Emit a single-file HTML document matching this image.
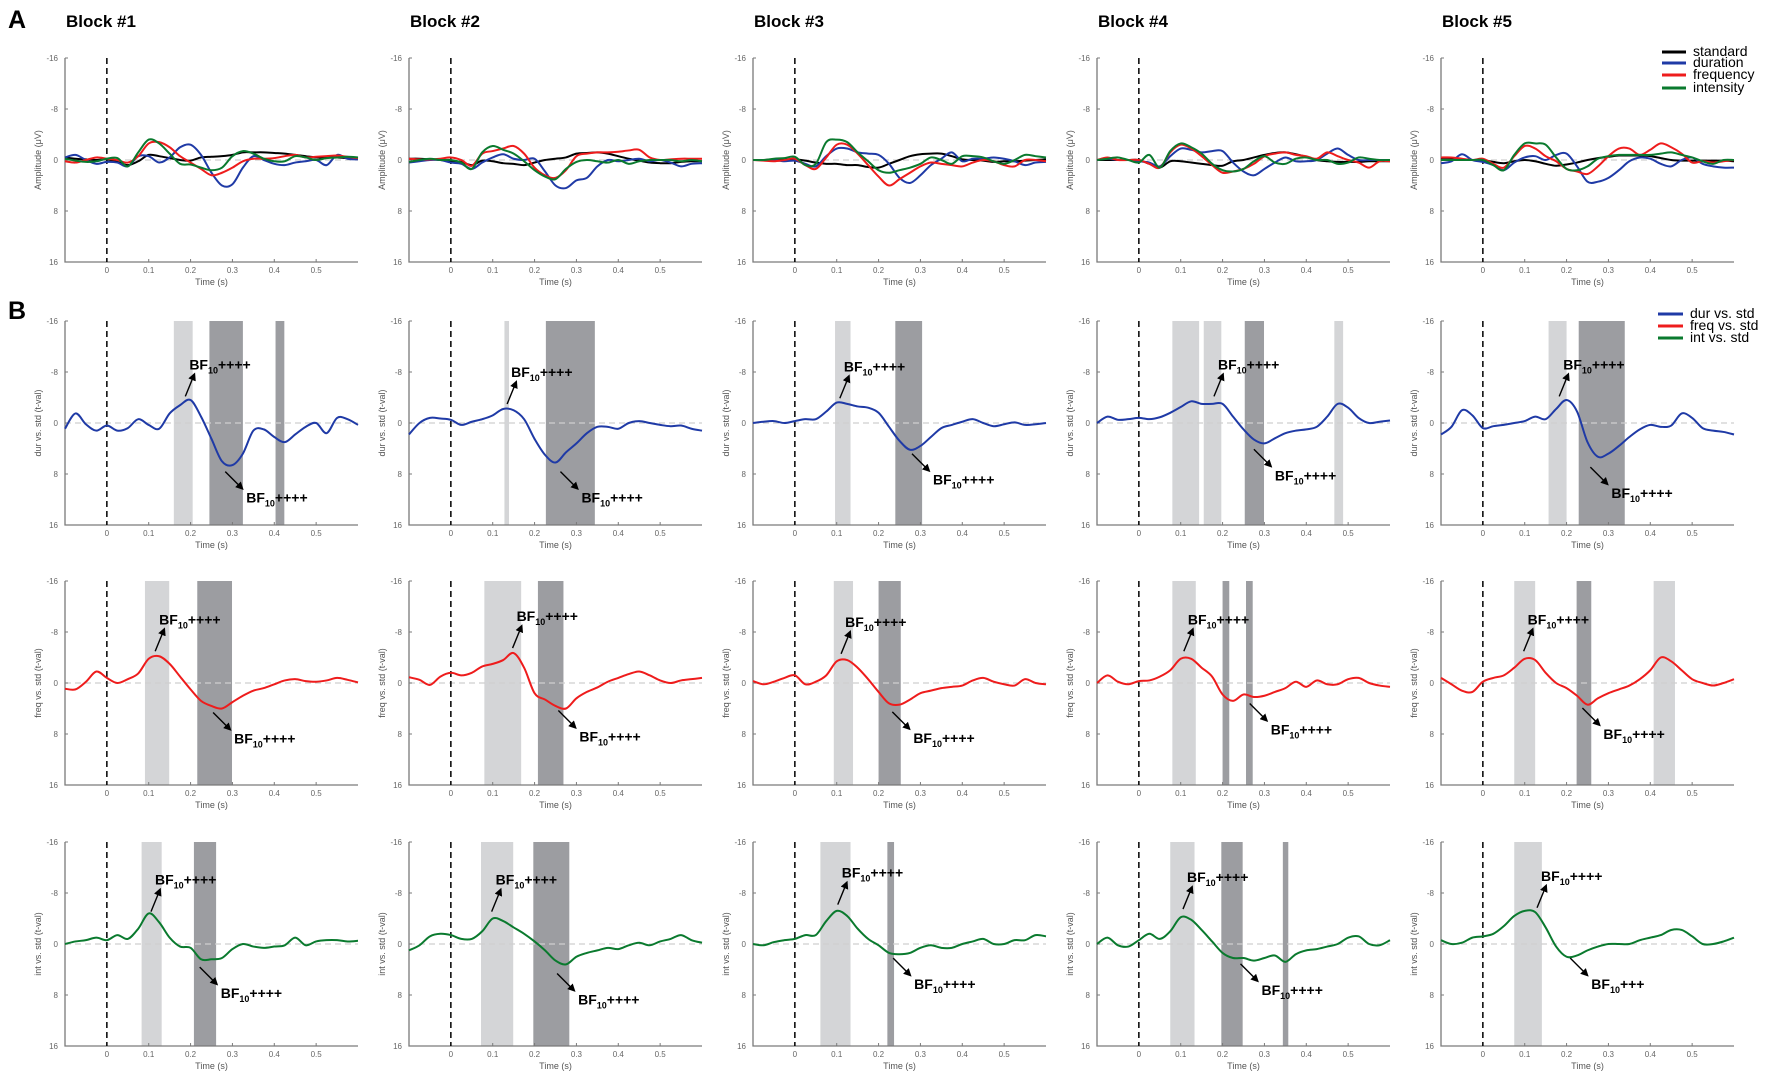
<!DOCTYPE html>
<html><head><meta charset="utf-8">
<style>
html,body{margin:0;padding:0;background:#fff;}
svg{display:block;font-family:"Liberation Sans",sans-serif;}
</style></head>
<body>
<svg id="fig" width="1772" height="1076" viewBox="0 0 1772 1076" xmlns="http://www.w3.org/2000/svg">
<defs>
<marker id="ah" markerWidth="8" markerHeight="8" refX="6" refY="4" orient="auto" markerUnits="userSpaceOnUse"><path d="M0,0 L8,4 L0,8 z" fill="#000"/></marker>
</defs>
<text x="8" y="28" font-size="25" font-weight="bold">A</text>
<text x="8" y="319" font-size="25" font-weight="bold">B</text>
<g font-size="14">
<line x1="1662" y1="52" x2="1686" y2="52" stroke="#000" stroke-width="3"/><text x="1693" y="56">standard</text>
<line x1="1662" y1="63" x2="1686" y2="63" stroke="#1f3aa6" stroke-width="3"/><text x="1693" y="67">duration</text>
<line x1="1662" y1="75" x2="1686" y2="75" stroke="#ee1c1c" stroke-width="3"/><text x="1693" y="79">frequency</text>
<line x1="1662" y1="88" x2="1686" y2="88" stroke="#0a7a2e" stroke-width="3"/><text x="1693" y="92">intensity</text>
</g>
<g font-size="14">
<line x1="1658" y1="314" x2="1683" y2="314" stroke="#1f3aa6" stroke-width="3"/><text x="1690" y="318">dur vs. std</text>
<line x1="1658" y1="326" x2="1683" y2="326" stroke="#ee1c1c" stroke-width="3"/><text x="1690" y="330">freq vs. std</text>
<line x1="1658" y1="338" x2="1683" y2="338" stroke="#0a7a2e" stroke-width="3"/><text x="1690" y="342">int vs. std</text>
</g>
</svg>
<script>
// ---- data ----
const times = [-0.1,-0.075,-0.05,-0.025,0,0.025,0.05,0.075,0.1,0.125,0.15,0.175,0.2,0.225,0.25,0.275,0.3,0.325,0.35,0.375,0.4,0.425,0.45,0.475,0.5,0.525,0.55,0.575,0.6];
const xTicks = [0,0.1,0.2,0.3,0.4,0.5];
const xTickLabels = ["0","0.1","0.2","0.3","0.4","0.5"];
const yTicks = [-16,-8,0,8,16];
const yTickLabels = ["-16","-8","0","8","16"];
const blockTitles = ["Block #1","Block #2","Block #3","Block #4","Block #5"];
const rowYLabels = ["Amplitude (\u03bcV)","dur vs. std (t-val)","freq vs. std (t-val)","int vs. std (t-val)"];

// Row A ERPs per block
const erpStandard = [
[-0.4,-0.2,-0.1,0,-0.1,0.3,0.8,0.2,-0.8,-0.6,-0.3,0,0.1,-0.4,-0.5,-0.6,-0.8,-1.2,-1.2,-1.2,-1.1,-1.0,-0.8,-0.6,-0.4,-0.4,-0.4,-0.3,-0.3],
[-0.2,-0.2,-0.1,0,0.2,0.3,0.8,0.1,0.2,0.5,0.6,0.8,0.4,0,-0.2,-0.4,-1.0,-1.1,-1.2,-1.0,-0.6,-0.2,0.1,0.4,0.5,0.5,0.3,0.2,0.2],
[0,0,-0.1,-0.1,-0.1,0.1,0.4,0.6,0.6,0.8,0.8,1.1,1.2,0.6,0,-0.6,-0.9,-1.0,-1.0,-0.6,-0.1,0,0.1,0.3,0.2,0.2,0.1,0,-0.1],
[0,0,0,0,0,0.6,1.2,0.2,0.2,0.4,0.6,0.8,0.9,0.2,0,-0.4,-0.8,-1.1,-1.2,-0.9,-0.5,0,0.2,0.3,0.3,0.3,0.2,0.2,0.2],
[-0.1,-0.1,-0.1,0,0,0.3,0.5,0.2,0,0.2,0.6,0.9,0.7,0.4,0,-0.3,-0.5,-0.7,-0.7,-0.7,-0.6,-0.3,0,0.1,0.1,0.1,0.1,0.1,0.2]];
const erpDuration = [
[-0.4,-0.8,0,0.6,0.3,0.4,1.0,-0.6,-0.6,0.4,-0.4,-2.0,-2.4,-0.8,2.0,4.0,3.8,1.2,-0.6,0,0.6,0.8,0.4,0.2,0,0.8,-0.8,-0.2,-0.1],
[0.4,0.2,0,0,0.4,0.6,1.4,0.4,-0.4,-0.9,-0.2,0,-0.2,1.8,4.0,4.4,3.2,2.8,1.0,0,0.2,0,-0.2,0.2,0,0.4,1.0,0.6,0.5],
[0,0,0,0.2,0.1,0.6,1.0,-0.6,-1.8,-1.8,-1.2,-1.0,-0.8,0.6,2.8,3.6,2.4,0.8,-0.2,-1.2,0.2,-0.2,-0.2,-0.4,-0.2,0.2,0.8,0.4,0.3],
[0,-0.2,0,0,0.2,0.4,1.0,-0.6,-1.8,-1.6,-1.2,-1.4,-1.4,0.4,1.8,2.4,1.4,0.4,-0.4,0.2,0.2,0,-1.0,-1.8,-0.8,0,0,0,0],
[0.5,0.2,-0.9,0,0.3,0.8,1.6,0.4,-0.4,-0.6,0,-0.8,-1.0,1.0,3.4,3.4,2.8,1.6,0.2,-0.4,-0.2,0.6,1.0,0,-0.4,0.6,1.0,1.2,1.2]];
const erpFrequency = [
[0.2,0.4,0,-0.4,-0.2,0,0.4,-0.6,-2.6,-2.8,-2.0,-0.6,0.4,1.4,2.4,2.0,1.2,0.2,-0.2,-0.2,-0.3,-0.6,-0.8,-0.4,-0.5,-0.6,-0.7,-0.5,-0.3],
[-0.2,-0.1,-0.1,-0.2,-0.4,0,0.9,-1.0,-1.4,-1.8,-2.2,-1.0,1.2,2.4,2.8,1.6,-0.6,-1.0,-1.2,-1.2,-1.3,-1.5,-1.6,-0.4,0,-0.1,-0.2,-0.2,-0.2],
[0,0.1,0.2,0,-0.2,0.8,1.4,-0.4,-2.4,-2.4,-1.0,0.8,2.6,4.0,3.0,2.0,1.0,0.4,0.6,0.8,1.0,0.4,0,0.2,0.8,1.0,0,0,0.2],
[0,-0.4,0,0,0,0.6,1.2,-1.2,-2.4,-1.8,-0.6,0.8,2.0,1.8,1.4,0.6,-0.6,-1.0,-1.2,-0.8,-0.6,-0.2,-1.2,-0.6,0,0.4,1.2,0.2,0.2],
[-0.4,-0.4,-0.2,0,-0.2,0.6,1.2,-0.6,-2.2,-1.8,-0.6,0.2,1.4,1.8,2.2,1.0,-0.6,-1.8,-1.8,-0.8,-1.6,-2.6,-2.0,-1.0,0.4,0.2,0.4,0.2,0]];
const erpIntensity = [
[-0.2,0.1,0.3,0.2,-0.2,-0.3,1.0,-1.2,-3.2,-2.6,-1.0,0.6,0.7,1.2,1.6,1.2,-0.6,-1.4,-1.0,-0.2,0.2,0.2,-0.6,-0.4,0,-0.3,-0.4,-0.5,-0.4],
[0.3,0,-0.2,0,0,0.4,1.4,-1.2,-2.2,-1.6,-1.0,0.2,1.6,2.6,3.0,1.4,0.3,0,0.2,0.4,0,0.6,0.2,0,0,0,0.2,0,0.2],
[0,0,-0.2,-0.3,-0.5,0.8,0.6,-2.8,-3.2,-2.8,-1.2,0.2,1.6,2.0,1.6,1.2,0.6,-0.4,0,0.6,-0.6,-0.6,-0.4,0.2,0.6,0,-0.8,-0.6,-0.4],
[0,-0.2,-0.4,0,0.4,-0.8,1.2,-1.4,-2.6,-2.0,-1.0,0.6,1.6,1.8,1.4,0.2,-0.6,0.4,0.6,-0.2,-0.4,0,0,0.6,0.4,-0.4,-0.2,0,0],
[0,0,0,0,0,0.8,1.6,-0.8,-2.6,-2.6,-2.4,-0.4,1.4,1.6,1.0,-0.2,-0.6,-0.8,-0.8,-0.8,-0.8,-1.0,-1.2,-0.8,-0.4,0.2,0.6,0,0]];

// Row B difference waves (t-values)
const durVsStd = [
[0.9,-1.5,0.2,1.2,0.4,1.2,0.8,-0.6,0.3,0.9,-1.5,-2.8,-3.6,-1.0,2.5,6.0,6.6,4.8,1.2,1.0,2.2,3.0,1.8,0.6,0,1.6,-0.8,-0.6,0.3],
[1.8,0,-0.8,-0.7,-0.5,0.3,-0.2,-0.6,-1.2,-2.2,-2.0,-0.6,2.5,5.0,6.2,4.6,3.2,1.6,0.6,0.6,0.9,0,-0.3,0,0.3,0.5,0.4,0.9,1.2],
[0,-0.2,-0.3,0,-0.3,-0.6,-0.6,-1.8,-3.2,-3.0,-2.6,-2.4,-1.6,0.6,2.8,4.2,3.6,2.2,0.8,0.3,-0.2,-0.6,0,0.5,0.2,-0.1,0.3,0.2,0],
[0,-1.0,-0.5,-0.6,-0.8,-0.6,-0.9,-1.6,-2.5,-3.4,-3.0,-3.0,-3.0,-1.0,1.0,2.6,3.2,2.4,1.6,1.2,1.0,0.6,-1.0,-3.0,-2.4,-0.8,0,-0.2,-0.4],
[1.8,0.6,-2.0,-1.2,0.8,0.5,0.3,0,-0.3,-1.0,-0.6,-2.2,-3.6,-1.8,3.0,5.3,4.8,3.6,2.2,1.0,0.3,0.6,0.4,-1.5,-0.8,0.8,1.2,1.4,1.8]];
const freqVsStd = [
[0.9,1.0,-0.2,-1.8,-0.8,0,-0.6,-1.5,-3.8,-4.2,-3.0,-1.0,1.0,2.8,3.6,4.0,3.0,2.0,1.2,0.8,0.2,-0.4,-0.6,-0.3,-0.2,-0.4,-0.8,-0.5,-0.1],
[-0.9,-0.5,0.3,-1.0,-1.6,-1.2,-1.6,-2.6,-3.0,-3.6,-4.7,-2.4,1.6,2.6,3.6,4.0,2.4,1.4,0.7,-0.2,-0.8,-1.4,-1.8,-1.2,-0.4,0,-0.4,-0.6,-0.8],
[-0.3,0.2,-0.2,-0.8,-1.2,0.2,-0.2,-1.2,-3.4,-3.6,-2.4,-0.6,1.4,3.2,3.4,2.6,1.6,1.2,0.8,0.6,0.4,-0.4,-0.8,-0.2,0.2,0.4,-0.6,0,0.2],
[0,-1.2,-0.2,0.2,-0.3,-0.4,-1.0,-2.0,-3.8,-3.8,-2.4,-1.0,1.8,2.8,1.8,2.2,2.0,1.4,0.8,-0.2,0.6,-0.4,0.2,0.2,-0.6,-0.8,0,0.4,0.6],
[-0.8,0.2,1.2,1.4,-0.2,-0.8,-1.2,-2.4,-3.8,-3.6,-1.6,0,0.8,2.0,3.4,2.4,1.6,1.0,0.4,-0.6,-2.0,-4.0,-3.4,-2.0,-0.6,0,0.4,0,-0.6]];
const intVsStd = [
[0,-0.4,-0.6,-1.0,-0.6,-1.4,-0.8,-2.4,-4.8,-3.4,-1.0,0.4,0.6,2.4,2.4,2.2,0.8,0,0.4,0.6,0.4,0.2,-1.0,0.2,-0.4,-0.6,-0.6,-0.4,-0.5],
[1.0,0.2,-1.2,-1.6,-1.4,-0.8,-0.8,-2.0,-4.0,-3.6,-2.6,-1.6,-0.4,1.0,2.6,3.2,2.0,1.4,1.0,0.6,0.8,0.2,-0.2,0.2,-0.4,-0.8,-1.4,-0.6,-0.2],
[0,0.2,-0.3,-0.6,-0.8,-1.4,-1.4,-3.6,-5.2,-4.4,-2.4,-0.8,0.2,1.4,1.6,1.4,0.6,0.2,0.6,0.6,0,-0.4,-0.8,0,0,-0.6,-0.6,-1.4,-1.2],
[0,-1.0,0.2,0.4,-0.6,-1.6,-0.8,-2.0,-4.2,-3.8,-2.2,-0.4,1.4,2.2,2.2,2.6,2.2,1.8,2.8,1.6,1.0,0.8,0.4,0,-1.0,-1.2,0,0.2,-0.6],
[-0.6,0,-0.2,-1.0,-1.2,-1.6,-2.8,-4.4,-5.2,-5.0,-2.6,0.4,2.0,1.8,1.0,0.4,0,0,0,-0.6,-1.0,-1.4,-2.2,-2.2,-1.2,0,0,-0.4,-1.0]];

// Bayesian-significant windows [start, end] (s)
const lightWindows = [
[[[0.160,0.205]],[[0.128,0.139]],[[0.096,0.133]],[[0.08,0.144],[0.155,0.197],[0.467,0.488]],[[0.157,0.2]]],
[[[0.091,0.149]],[[0.08,0.168]],[[0.093,0.139]],[[0.08,0.136]],[[0.075,0.125],[0.408,0.459]]],
[[[0.083,0.131]],[[0.072,0.149]],[[0.061,0.133]],[[0.075,0.133]],[[0.075,0.141]]]];
const darkWindows = [
[[[0.245,0.325],[0.403,0.424]],[[0.227,0.344]],[[0.24,0.304]],[[0.253,0.299]],[[0.229,0.339]]],
[[[0.216,0.299]],[[0.208,0.269]],[[0.2,0.253]],[[0.2,0.216],[0.256,0.272]],[[0.224,0.259]]],
[[[0.208,0.261]],[[0.197,0.283]],[[0.221,0.237]],[[0.197,0.248],[0.344,0.357]],[]]];
// annotation anchor [t, value] for upper / lower BF labels
const bfUpper = [
[[0.197,-9.2],[0.144,-8],[0.117,-8.9],[0.189,-9.2],[0.192,-9.2]],
[[0.125,-10],[0.157,-10.5],[0.12,-9.6],[0.117,-10],[0.107,-10]],
[[0.115,-10.1],[0.107,-10.1],[0.112,-11.2],[0.115,-10.5],[0.139,-10.7]]];
const bfLower = [
[[0.333,11.7],[0.312,11.7],[0.33,8.9],[0.325,8.2],[0.307,11]],
[[0.304,8.7],[0.307,8.4],[0.283,8.6],[0.315,7.3],[0.288,8]],
[[0.272,7.7],[0.304,8.7],[0.285,6.3],[0.293,7.2],[0.259,6.3]]];
const bfLowerPlus = [["++++","++++","++++","++++","++++"],["++++","++++","++++","++++","++++"],["++++","++++","++++","++++","+++"]];

// ---- layout ----
const colLeft = [65,409,753,1097,1441];
const rowTop = [58,321,581,842];
const PW = 293, PH = 204;
const XMIN = -0.1, XMAX = 0.6, YMIN = -16, YMAX = 16;
const C = {black:"#000", blue:"#1f3aa6", red:"#ee1c1c", green:"#0a7a2e"};
const svg = document.getElementById('fig');
const NS = "http://www.w3.org/2000/svg";
function mk(tag, attrs, parent){const e=document.createElementNS(NS,tag);for(const k in attrs)e.setAttribute(k,attrs[k]);(parent||svg).appendChild(e);return e;}
function xs(c,t){return colLeft[c] + (t-XMIN)/(XMAX-XMIN)*PW;}
function ys(r,v){return rowTop[r] + (v-YMIN)/(YMAX-YMIN)*PH;}
function smooth(pts){
  let d = "M"+pts[0][0].toFixed(2)+","+pts[0][1].toFixed(2);
  for(let i=0;i<pts.length-1;i++){
    const p0=pts[Math.max(0,i-1)],p1=pts[i],p2=pts[i+1],p3=pts[Math.min(pts.length-1,i+2)];
    const c1x=p1[0]+(p2[0]-p0[0])/6,c1y=p1[1]+(p2[1]-p0[1])/6;
    const c2x=p2[0]-(p3[0]-p1[0])/6,c2y=p2[1]-(p3[1]-p1[1])/6;
    d+=" C"+c1x.toFixed(2)+","+c1y.toFixed(2)+" "+c2x.toFixed(2)+","+c2y.toFixed(2)+" "+p2[0].toFixed(2)+","+p2[1].toFixed(2);
  }
  return d;
}
function drawCurve(g,r,c,vals,color,name){
  const pts = times.map((t,i)=>[xs(c,t),ys(r,vals[i])]);
  const p = mk('path',{d:smooth(pts),fill:'none',stroke:color,'stroke-width':2,'stroke-linejoin':'round'},g);
  
  
}
function drawAxes(g,r,c){
  const L=colLeft[c],T=rowTop[r],B=T+PH,R=L+PW;
  // zero line
  const z = mk('line',{x1:L,x2:R,y1:ys(r,0),y2:ys(r,0),stroke:'#cfcfcf','stroke-width':1.2,'stroke-dasharray':'6,4'},g);
  
  
  const ax = mk('path',{d:`M${L},${T} L${L},${B} L${R},${B}`,fill:'none',stroke:'#7a7a7a','stroke-width':1.3},g);
  
  
  yTicks.forEach((v,i)=>{
    const y=ys(r,v);
    mk('line',{x1:L,x2:L+3,y1:y,y2:y,stroke:'#7a7a7a','stroke-width':1},g);
    const tl = mk('text',{x:L-7,y:y+3,'text-anchor':'end','font-size':8,fill:'#666'},g);
    tl.textContent = yTickLabels[i];
    
    
  });
  xTicks.forEach((t,i)=>{
    const x=xs(c,t);
    mk('line',{x1:x,x2:x,y1:B,y2:B-3,stroke:'#7a7a7a','stroke-width':1},g);
    const tl = mk('text',{x:x,y:B+11,'text-anchor':'middle','font-size':8,fill:'#666'},g);
    tl.textContent = xTickLabels[i];
    
    
  });
  const xt = mk('text',{x:xs(c,0.25),y:B+23,'text-anchor':'middle','font-size':9,fill:'#555'},g);
  xt.textContent='Time (s)';
  
  
  const yl = mk('text',{x:0,y:0,'text-anchor':'middle','font-size':9,fill:'#555',transform:`translate(${L-24},${T+PH/2}) rotate(-90)`},g);
  yl.textContent = rowYLabels[r];
  
  
}
function drawOnset(g,r,c){
  const x=xs(c,0);
  const l = mk('line',{x1:x,x2:x,y1:rowTop[r],y2:rowTop[r]+PH,stroke:'#000','stroke-width':1.5,'stroke-dasharray':'6,4'},g);
  
  
}
function bfLabel(g,x,y,plus){
  const t = mk('text',{x:x,y:y+5,'font-size':14,'font-weight':'bold'},g);
  
  
  t.appendChild(document.createTextNode('BF'));
  const s = mk('tspan',{'font-size':9,dy:4},t); s.textContent='10';
  const p = mk('tspan',{dy:-4},t); p.textContent=plus;
}
function arrow(g,x1,y1,x2,y2){
  const a = mk('line',{x1,y1,x2,y2,stroke:'#000','stroke-width':1.4,'marker-end':'url(#ah)'},g);
  
  
}

for(let c=0;c<5;c++){
  const tt = mk('text',{x:colLeft[c]+1,y:27,'font-size':17,'font-weight':'bold'});
  tt.textContent = blockTitles[c];
  
  
  // Row A
  const gA = mk('g',{});
  
  
  drawAxes(gA,0,c);
  drawOnset(gA,0,c);
  drawCurve(gA,0,c,erpStandard[c],C.black,'standard-erp');
  drawCurve(gA,0,c,erpDuration[c],C.blue,'duration-erp');
  drawCurve(gA,0,c,erpFrequency[c],C.red,'frequency-erp');
  drawCurve(gA,0,c,erpIntensity[c],C.green,'intensity-erp');
  // Row B
  const diffs=[durVsStd,freqVsStd,intVsStd], cols=[C.blue,C.red,C.green], nm=['dur-vs-std','freq-vs-std','int-vs-std'];
  for(let k=0;k<3;k++){
    const r=k+1;
    const g = mk('g',{});
    
    
    lightWindows[k][c].forEach(w=>{
      const rc = mk('rect',{x:xs(c,w[0]),y:rowTop[r],width:xs(c,w[1])-xs(c,w[0]),height:PH,fill:'#d4d5d7'},g);
      
      
    });
    darkWindows[k][c].forEach(w=>{
      const rc = mk('rect',{x:xs(c,w[0]),y:rowTop[r],width:xs(c,w[1])-xs(c,w[0]),height:PH,fill:'#9c9da1'},g);
      
      
    });
    drawAxes(g,r,c);
    drawOnset(g,r,c);
    drawCurve(g,r,c,diffs[k][c],cols[k],nm[k]+'-curve');
    const u=bfUpper[k][c], ux=xs(c,u[0]), uy=ys(r,u[1]);
    arrow(g,ux-4,uy+32,ux+5,uy+10);
    bfLabel(g,ux,uy,'++++');
    const lo=bfLower[k][c], lx=xs(c,lo[0]), ly=ys(r,lo[1]);
    arrow(g,lx-21,ly-26,lx-4,ly-9);
    bfLabel(g,lx,ly,bfLowerPlus[k][c]);
  }
}
</script>
</body></html>
